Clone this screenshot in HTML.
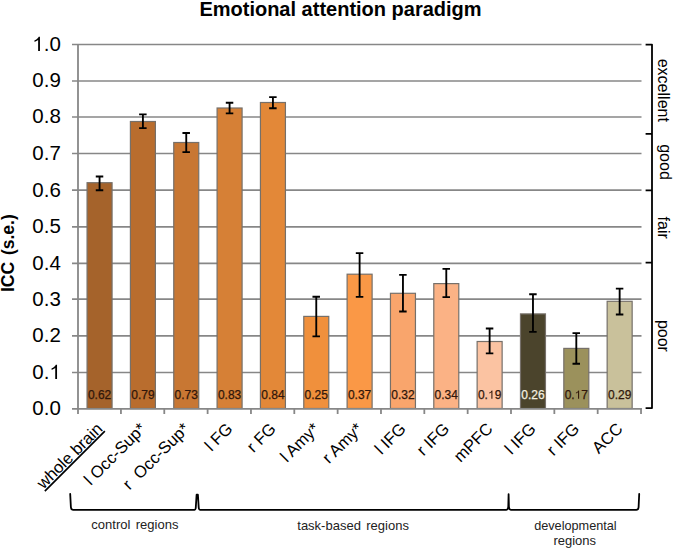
<!DOCTYPE html><html><head><meta charset="utf-8"><style>html,body{margin:0;padding:0;background:#fff;width:675px;height:550px;overflow:hidden}svg{display:block}text{font-family:"Liberation Sans",sans-serif}</style></head><body>
<svg width="675" height="550" viewBox="0 0 675 550">
<rect width="675" height="550" fill="#fff"/>
<text x="340.5" y="16" text-anchor="middle" font-weight="bold" font-size="20" fill="#000">Emotional attention paradigm</text>
<line x1="72" y1="372.50" x2="641.5" y2="372.50" stroke="#878787" stroke-width="1.7"/>
<line x1="72" y1="335.80" x2="641.5" y2="335.80" stroke="#878787" stroke-width="1.7"/>
<line x1="72" y1="299.20" x2="641.5" y2="299.20" stroke="#878787" stroke-width="1.7"/>
<line x1="72" y1="263.40" x2="641.5" y2="263.40" stroke="#878787" stroke-width="1.7"/>
<line x1="72" y1="226.80" x2="641.5" y2="226.80" stroke="#878787" stroke-width="1.7"/>
<line x1="72" y1="190.20" x2="641.5" y2="190.20" stroke="#878787" stroke-width="1.7"/>
<line x1="72" y1="153.50" x2="641.5" y2="153.50" stroke="#878787" stroke-width="1.7"/>
<line x1="72" y1="117.00" x2="641.5" y2="117.00" stroke="#878787" stroke-width="1.7"/>
<line x1="72" y1="81.00" x2="641.5" y2="81.00" stroke="#878787" stroke-width="1.7"/>
<line x1="72" y1="44.50" x2="641.5" y2="44.50" stroke="#878787" stroke-width="1.7"/>
<text x="60.80" y="415.30" text-anchor="end" font-size="20.5" fill="#000">0.0</text>
<text x="32.30" y="378.90" font-size="20.5" fill="#000">0.</text><path transform="translate(49.40,378.90) scale(0.010010,-0.010010)" d="M763 0H583V1098Q518 1039 412 979T222 890V1057Q372 1125 485 1221T644 1409H763Z" fill="#000"/>
<text x="60.80" y="342.20" text-anchor="end" font-size="20.5" fill="#000">0.2</text>
<text x="60.80" y="305.60" text-anchor="end" font-size="20.5" fill="#000">0.3</text>
<text x="60.80" y="269.80" text-anchor="end" font-size="20.5" fill="#000">0.4</text>
<text x="60.80" y="233.20" text-anchor="end" font-size="20.5" fill="#000">0.5</text>
<text x="60.80" y="196.60" text-anchor="end" font-size="20.5" fill="#000">0.6</text>
<text x="60.80" y="159.90" text-anchor="end" font-size="20.5" fill="#000">0.7</text>
<text x="60.80" y="123.40" text-anchor="end" font-size="20.5" fill="#000">0.8</text>
<text x="60.80" y="87.40" text-anchor="end" font-size="20.5" fill="#000">0.9</text>
<path transform="translate(32.30,50.90) scale(0.010010,-0.010010)" d="M763 0H583V1098Q518 1039 412 979T222 890V1057Q372 1125 485 1221T644 1409H763Z" fill="#000"/><text x="43.70" y="50.90" font-size="20.5" fill="#000">.0</text>
<text transform="translate(14.2,253.2) rotate(-90)" text-anchor="middle" font-weight="bold" font-size="17.5" word-spacing="2" fill="#000">ICC (s.e.)</text>
<rect x="87.07" y="182.70" width="25.0" height="225.80" fill="#A5632B" stroke="#76706a" stroke-width="1.2"/>
<rect x="130.41" y="121.50" width="25.0" height="287.00" fill="#B96D2E" stroke="#76706a" stroke-width="1.2"/>
<rect x="173.75" y="142.50" width="25.0" height="266.00" fill="#C87733" stroke="#76706a" stroke-width="1.2"/>
<rect x="217.09" y="108.00" width="25.0" height="300.50" fill="#D68036" stroke="#76706a" stroke-width="1.2"/>
<rect x="260.43" y="102.50" width="25.0" height="306.00" fill="#E38838" stroke="#76706a" stroke-width="1.2"/>
<rect x="303.77" y="316.40" width="25.0" height="92.10" fill="#F0903C" stroke="#76706a" stroke-width="1.2"/>
<rect x="347.11" y="274.20" width="25.0" height="134.30" fill="#FA9846" stroke="#76706a" stroke-width="1.2"/>
<rect x="390.45" y="293.30" width="25.0" height="115.20" fill="#F9A56C" stroke="#76706a" stroke-width="1.2"/>
<rect x="433.79" y="283.60" width="25.0" height="124.90" fill="#FBB285" stroke="#76706a" stroke-width="1.2"/>
<rect x="477.13" y="341.50" width="25.0" height="67.00" fill="#FBC3A2" stroke="#76706a" stroke-width="1.2"/>
<rect x="520.47" y="313.90" width="25.0" height="94.60" fill="#4B442C" stroke="#76706a" stroke-width="1.2"/>
<rect x="563.81" y="348.40" width="25.0" height="60.10" fill="#9B915C" stroke="#76706a" stroke-width="1.2"/>
<rect x="607.15" y="301.30" width="25.0" height="107.20" fill="#C9C19B" stroke="#76706a" stroke-width="1.2"/>
<line x1="72" y1="408.9" x2="641.5" y2="408.9" stroke="#878787" stroke-width="1.8"/>
<line x1="78" y1="44" x2="78" y2="414" stroke="#878787" stroke-width="1.8"/>
<line x1="120.94" y1="408" x2="120.94" y2="414" stroke="#878787" stroke-width="1.8"/>
<line x1="164.28" y1="408" x2="164.28" y2="414" stroke="#878787" stroke-width="1.8"/>
<line x1="207.62" y1="408" x2="207.62" y2="414" stroke="#878787" stroke-width="1.8"/>
<line x1="250.96" y1="408" x2="250.96" y2="414" stroke="#878787" stroke-width="1.8"/>
<line x1="294.30" y1="408" x2="294.30" y2="414" stroke="#878787" stroke-width="1.8"/>
<line x1="337.64" y1="408" x2="337.64" y2="414" stroke="#878787" stroke-width="1.8"/>
<line x1="380.98" y1="408" x2="380.98" y2="414" stroke="#878787" stroke-width="1.8"/>
<line x1="424.32" y1="408" x2="424.32" y2="414" stroke="#878787" stroke-width="1.8"/>
<line x1="467.66" y1="408" x2="467.66" y2="414" stroke="#878787" stroke-width="1.8"/>
<line x1="511.00" y1="408" x2="511.00" y2="414" stroke="#878787" stroke-width="1.8"/>
<line x1="554.34" y1="408" x2="554.34" y2="414" stroke="#878787" stroke-width="1.8"/>
<line x1="597.68" y1="408" x2="597.68" y2="414" stroke="#878787" stroke-width="1.8"/>
<line x1="641.02" y1="408" x2="641.02" y2="414" stroke="#878787" stroke-width="1.8"/>
<path d="M95.77 176.50H103.27M99.57 176.50V190.20M95.77 190.20H103.27" stroke="#000" stroke-width="1.85" fill="none"/>
<text x="99.57" y="398.80" text-anchor="middle" font-size="12" fill="#30160a" stroke="#30160a" stroke-width="0.25">0.62</text>
<path d="M139.11 114.40H146.61M142.91 114.40V128.10M139.11 128.10H146.61" stroke="#000" stroke-width="1.85" fill="none"/>
<text x="142.91" y="398.80" text-anchor="middle" font-size="12" fill="#30160a" stroke="#30160a" stroke-width="0.25">0.79</text>
<path d="M182.45 133.00H189.95M186.25 133.00V152.10M182.45 152.10H189.95" stroke="#000" stroke-width="1.85" fill="none"/>
<text x="186.25" y="398.80" text-anchor="middle" font-size="12" fill="#30160a" stroke="#30160a" stroke-width="0.25">0.73</text>
<path d="M225.79 102.70H233.29M229.59 102.70V113.30M225.79 113.30H233.29" stroke="#000" stroke-width="1.85" fill="none"/>
<text x="229.59" y="398.80" text-anchor="middle" font-size="12" fill="#30160a" stroke="#30160a" stroke-width="0.25">0.83</text>
<path d="M269.13 97.10H276.63M272.93 97.10V108.20M269.13 108.20H276.63" stroke="#000" stroke-width="1.85" fill="none"/>
<text x="272.93" y="398.80" text-anchor="middle" font-size="12" fill="#30160a" stroke="#30160a" stroke-width="0.25">0.84</text>
<path d="M312.47 296.70H319.97M316.27 296.70V336.40M312.47 336.40H319.97" stroke="#000" stroke-width="1.85" fill="none"/>
<text x="316.27" y="398.80" text-anchor="middle" font-size="12" fill="#30160a" stroke="#30160a" stroke-width="0.25">0.25</text>
<path d="M355.81 253.10H363.31M359.61 253.10V296.90M355.81 296.90H363.31" stroke="#000" stroke-width="1.85" fill="none"/>
<text x="359.61" y="398.80" text-anchor="middle" font-size="12" fill="#30160a" stroke="#30160a" stroke-width="0.25">0.37</text>
<path d="M399.15 274.80H406.65M402.95 274.80V311.50M399.15 311.50H406.65" stroke="#000" stroke-width="1.85" fill="none"/>
<text x="402.95" y="398.80" text-anchor="middle" font-size="12" fill="#30160a" stroke="#30160a" stroke-width="0.25">0.32</text>
<path d="M442.49 268.80H449.99M446.29 268.80V297.10M442.49 297.10H449.99" stroke="#000" stroke-width="1.85" fill="none"/>
<text x="446.29" y="398.80" text-anchor="middle" font-size="12" fill="#30160a" stroke="#30160a" stroke-width="0.25">0.34</text>
<path d="M485.83 328.50H493.33M489.63 328.50V353.30M485.83 353.30H493.33" stroke="#000" stroke-width="1.85" fill="none"/>
<text x="477.95" y="398.80" font-size="12" fill="#30160a" stroke="#30160a" stroke-width="0.25">0.</text><path transform="translate(487.96,398.80) scale(0.005859,-0.005859)" d="M763 0H583V1098Q518 1039 412 979T222 890V1057Q372 1125 485 1221T644 1409H763Z" fill="#30160a"/><text x="494.63" y="398.80" font-size="12" fill="#30160a" stroke="#30160a" stroke-width="0.25">9</text>
<path d="M529.17 294.20H536.67M532.97 294.20V331.80M529.17 331.80H536.67" stroke="#000" stroke-width="1.85" fill="none"/>
<text x="532.97" y="398.80" text-anchor="middle" font-size="12" fill="#f4f0e0" stroke="#f4f0e0" stroke-width="0.25">0.26</text>
<path d="M572.51 333.10H580.01M576.31 333.10V363.70M572.51 363.70H580.01" stroke="#000" stroke-width="1.85" fill="none"/>
<text x="564.63" y="398.80" font-size="12" fill="#30160a" stroke="#30160a" stroke-width="0.25">0.</text><path transform="translate(574.64,398.80) scale(0.005859,-0.005859)" d="M763 0H583V1098Q518 1039 412 979T222 890V1057Q372 1125 485 1221T644 1409H763Z" fill="#30160a"/><text x="581.31" y="398.80" font-size="12" fill="#30160a" stroke="#30160a" stroke-width="0.25">7</text>
<path d="M615.85 288.60H623.35M619.65 288.60V314.50M615.85 314.50H623.35" stroke="#000" stroke-width="1.85" fill="none"/>
<text x="619.65" y="398.80" text-anchor="middle" font-size="12" fill="#30160a" stroke="#30160a" stroke-width="0.25">0.29</text>
<text transform="translate(103.57,429.8) rotate(-45)" text-anchor="end" font-size="16.6" fill="#000" text-decoration="underline">whole brain</text>
<text transform="translate(146.91,429.8) rotate(-45)" text-anchor="end" font-size="16.6" fill="#000">l Occ-Sup*</text>
<text transform="translate(190.25,429.8) rotate(-45)" text-anchor="end" font-size="16.6" fill="#000">r  Occ-Sup*</text>
<text transform="translate(233.59,429.8) rotate(-45)" text-anchor="end" font-size="16.6" fill="#000">l FG</text>
<text transform="translate(276.93,429.8) rotate(-45)" text-anchor="end" font-size="16.6" fill="#000">r FG</text>
<text transform="translate(320.27,429.8) rotate(-45)" text-anchor="end" font-size="16.6" fill="#000">l Amy*</text>
<text transform="translate(363.61,429.8) rotate(-45)" text-anchor="end" font-size="16.6" fill="#000">r Amy*</text>
<text transform="translate(406.95,429.8) rotate(-45)" text-anchor="end" font-size="16.6" fill="#000">l IFG</text>
<text transform="translate(450.29,429.8) rotate(-45)" text-anchor="end" font-size="16.6" fill="#000">r IFG</text>
<text transform="translate(493.63,429.8) rotate(-45)" text-anchor="end" font-size="16.6" fill="#000">mPFC</text>
<text transform="translate(536.97,429.8) rotate(-45)" text-anchor="end" font-size="16.6" fill="#000">l IFG</text>
<text transform="translate(580.31,429.8) rotate(-45)" text-anchor="end" font-size="16.6" fill="#000">r IFG</text>
<text transform="translate(623.65,429.8) rotate(-45)" text-anchor="end" font-size="16.6" fill="#000">ACC</text>
<path d="M645.6 44.6H652V408.1H645.6M645.6 133.9H652M645.6 190.4H652M645.6 262.7H652" stroke="#000" stroke-width="1.8" fill="none" stroke-linejoin="round"/>
<text transform="translate(657.5,90.3) rotate(90)" text-anchor="middle" font-size="16" fill="#000">excellent</text>
<text transform="translate(660.2,162) rotate(90)" text-anchor="middle" font-size="16" fill="#000">good</text>
<text transform="translate(657.5,227.7) rotate(90)" text-anchor="middle" font-size="16" fill="#000">fair</text>
<text transform="translate(657.5,335.9) rotate(90)" text-anchor="middle" font-size="16" fill="#000">poor</text>
<path d="M70.2 494L70.9 507.3Q71.1 509.8 73.2 509.8H194.6Q195.6 509.8 195.8 507.4L196.6 494.7H197.9L198.7 507.4Q198.9 509.8 200 509.8H506.4Q508.1 509.8 508.3 506.5L508.6 494.2L508.9 506.5Q509.1 509.8 510.8 509.8H636.3Q638.4 509.8 638.6 507.3L639.2 494" stroke="#000" stroke-width="1.8" fill="none" stroke-linejoin="round" stroke-linecap="round"/>
<text x="134.9" y="529" text-anchor="middle" font-size="13" fill="#222" word-spacing="1.8">control regions</text>
<text x="353.1" y="529.5" text-anchor="middle" font-size="13" fill="#222" word-spacing="1.8">task-based regions</text>
<text x="575.4" y="530" text-anchor="middle" font-size="12.7" fill="#222">developmental</text>
<text x="574.7" y="544.7" text-anchor="middle" font-size="13" fill="#222">regions</text>
</svg></body></html>
